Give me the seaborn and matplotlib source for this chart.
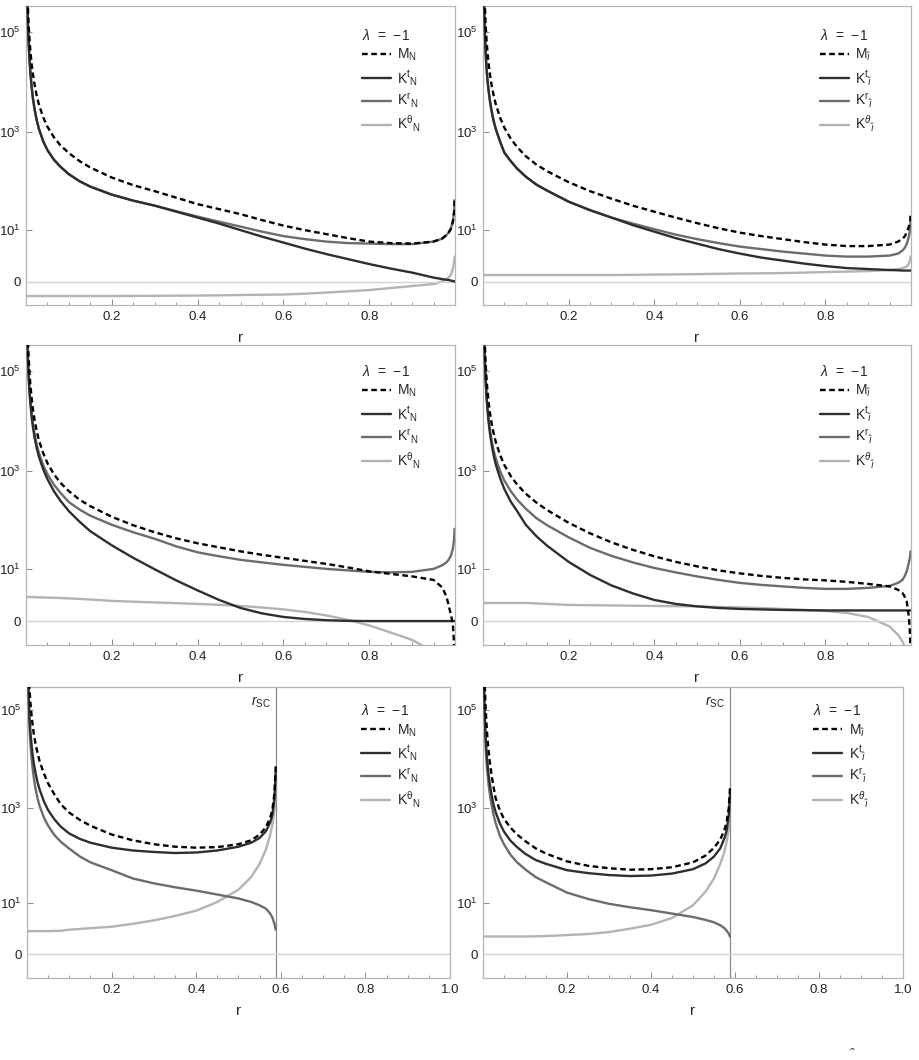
import matplotlib
matplotlib.use("Agg")
import matplotlib.pyplot as plt
import matplotlib.transforms as mtransforms
from matplotlib.ticker import FixedLocator, MultipleLocator, NullFormatter, FuncFormatter
import seaborn as sns
import numpy as np

# Data (values on a signed-log axis)
r_top = [0.002, 0.004, 0.006, 0.008, 0.01, 0.013, 0.016, 0.02, 0.025, 0.03, 0.04, 0.05,
         0.065, 0.08, 0.1, 0.125, 0.15, 0.2, 0.25, 0.3, 0.35, 0.4, 0.45, 0.5, 0.55, 0.6,
         0.65, 0.7, 0.75, 0.8, 0.85, 0.9, 0.95, 0.97, 0.98, 0.985, 0.99, 0.995, 0.998, 0.999]
r_bot = [0.002, 0.004, 0.006, 0.008, 0.01, 0.013, 0.016, 0.02, 0.025, 0.03, 0.04, 0.05,
         0.065, 0.08, 0.1, 0.125, 0.15, 0.2, 0.25, 0.3, 0.35, 0.4, 0.45, 0.5, 0.53, 0.55,
         0.565, 0.575, 0.58, 0.585, 0.588]
r_sc = 0.588

# top left
m_tl = [2.51e6, 3.98e5, 1.48e5, 7.59e4, 4.37e4, 2.34e4, 1.45e4, 8710, 5248, 3548, 1950, 1259,
        776, 537, 372, 257, 191, 120, 84.1, 63.6, 46.9, 34.5, 27.2, 21.4, 16.0, 12.2,
        9.7, 7.91, 6.41, 5.31, 4.89, 4.75, 5.31, 6.24, 7.51, 8.55, 10.2, 14.8, 24.1, 41.7]
kt_tl = [1.58e6, 2.0e5, 6.46e4, 2.95e4, 1.62e4, 8128, 4786, 2818, 1698, 1148, 646, 427,
         275, 199, 140, 101, 78.4, 54.0, 40.7, 32.1, 24.1, 18.1, 13.5, 9.72, 6.94, 5.03,
         3.57, 2.55, 1.82, 1.24, 0.82, 0.51, 0.2, 0.12, 0.084, 0.072, 0.047, 0.023, 0.009, 0.0]
kr_tl = [1.58e6, 2.0e5, 6.46e4, 2.95e4, 1.62e4, 8128, 4786, 2818, 1698, 1148, 646, 427,
         275, 199, 140, 101, 78.4, 54.0, 40.7, 32.1, 24.7, 19.0, 14.8, 11.6, 9.0, 7.13,
         6.08, 5.31, 4.89, 4.75, 4.62, 4.62, 5.31, 6.24, 7.51, 8.55, 10.2, 14.8, 24.1, 41.7]
kth_tl = [-0.95, -0.95, -0.95, -0.95, -0.95, -0.95, -0.95, -0.95, -0.95, -0.95, -0.95, -0.95,
          -0.95, -0.95, -0.95, -0.95, -0.95, -0.95, -0.94, -0.93, -0.92, -0.91, -0.89, -0.86,
          -0.84, -0.82, -0.75, -0.66, -0.57, -0.48, -0.35, -0.23, -0.12, 0.0, 0.12, 0.2,
          0.35, 0.78, 1.51, 2.16]

# top right
m_tr = [2.51e6, 3.98e5, 1.48e5, 7.59e4, 4.37e4, 2.34e4, 1.45e4, 8710, 5248, 3548, 1905, 1202,
        724, 489, 323, 218, 161, 96.7, 63.6, 44.7, 32.1, 24.1, 18.1, 13.8, 10.7, 8.55,
        7.13, 6.08, 5.17, 4.5, 4.13, 4.13, 4.5, 5.31, 6.24, 6.94, 8.55, 11.6, 15.6, 19.9]
kt_tr = [7.94e5, 1.12e5, 3.98e4, 2.0e4, 1.2e4, 6761, 4266, 2630, 1622, 1121, 630, 379,
         256, 181, 125, 86.1, 65.1, 38.8, 25.9, 18.1, 12.5, 9.0, 6.41, 4.75, 3.47, 2.63,
         2.02, 1.63, 1.29, 1.04, 0.86, 0.78, 0.7, 0.68, 0.66, 0.66, 0.66, 0.66, 0.66, 0.66]
kr_tr = [7.94e5, 1.12e5, 3.98e4, 2.0e4, 1.2e4, 6761, 4266, 2630, 1622, 1121, 630, 379,
         256, 181, 125, 86.1, 65.1, 38.8, 25.9, 18.1, 13.5, 10.2, 7.71, 6.08, 4.89, 4.01,
         3.47, 2.98, 2.63, 2.31, 2.16, 2.16, 2.31, 2.63, 3.17, 3.68, 4.62, 6.94, 10.2, 14.8]
kth_tr = [0.35, 0.35, 0.35, 0.35, 0.35, 0.35, 0.35, 0.35, 0.35, 0.35, 0.35, 0.35, 0.35,
          0.35, 0.35, 0.35, 0.35, 0.35, 0.35, 0.35, 0.36, 0.38, 0.39, 0.41, 0.43, 0.45,
          0.46, 0.48, 0.51, 0.55, 0.58, 0.62, 0.7, 0.78, 0.86, 0.92, 1.0, 1.29, 1.7, 2.16]

# middle left
m_ml = [3.16e6, 5.62e5, 2.0e5, 9.77e4, 5.62e4, 2.95e4, 1.78e4, 1.05e4, 6310, 4169, 2291,
        1445, 871, 589, 398, 268, 199, 122, 82.2, 59.3, 44.7, 35.3, 29.2, 24.1, 20.4, 17.6,
        15.2, 13.1, 11.0, 9.0, 7.91, 6.94, 5.76, 3.79, 2.16, 1.14, 0.41, -0.12, -2.16, -9.0]
kt_ml = [2.0e6, 2.14e5, 7.94e4, 3.98e4, 2.34e4, 1.26e4, 7762, 4677, 2884, 1950, 1096, 692,
         398, 257, 158, 96.7, 62.1, 32.1, 17.6, 10.0, 5.61, 3.17, 1.69, 0.86, 0.45, 0.23,
         0.12, 0.059, 0.028, 0.018, 0.018, 0.018, 0.018, 0.018, 0.018, 0.018, 0.018, 0.018,
         0.018, 0.018]
kr_ml = [2.0e6, 2.24e5, 8.51e4, 4.37e4, 2.63e4, 1.45e4, 8913, 5495, 3388, 2344, 1318, 871,
         537, 372, 240, 170, 128, 84.1, 59.3, 43.7, 30.6, 23.0, 19.0, 16.0, 14.1, 12.5,
         11.3, 10.2, 9.47, 8.77, 8.55, 8.77, 10.2, 12.2, 14.1, 16.0, 19.0, 27.2, 43.7, 69.8]
kth_ml = [2.09, 2.09, 2.08, 2.08, 2.07, 2.06, 2.06, 2.05, 2.04, 2.03, 2.01, 2.0, 1.97, 1.94,
          1.88, 1.82, 1.75, 1.57, 1.48, 1.4, 1.32, 1.24, 1.15, 1.04, 0.9, 0.74, 0.55, 0.32,
          0.08, -0.2, -0.66, -1.34, -2.98, -4.0, -5.0, -6.0, -8.0, -10.0, -12.0, -13.0]

# middle right
m_mr = [2.51e6, 3.98e5, 1.48e5, 7.59e4, 4.47e4, 2.45e4, 1.51e4, 9120, 5623, 3802, 2089,
        1318, 794, 537, 354, 234, 166, 92.3, 56.5, 37.0, 25.9, 19.0, 14.5, 11.6, 9.47, 8.12,
        7.13, 6.41, 5.92, 5.61, 5.17, 4.62, 4.01, 3.27, 2.72, 2.16, 1.51, 0.26, -1.0, -9.0]
kt_mr = [1.58e6, 1.91e5, 6.61e4, 3.24e4, 1.86e4, 9772, 5888, 3467, 2041, 1348, 723, 436,
         245, 157, 84.1, 49.1, 31.4, 14.5, 7.51, 4.25, 2.63, 1.69, 1.24, 1.0, 0.86, 0.78,
         0.74, 0.7, 0.68, 0.66, 0.66, 0.66, 0.66, 0.66, 0.66, 0.66, 0.66, 0.66, 0.66, 0.66]
kr_mr = [1.58e6, 2.0e5, 7.08e4, 3.55e4, 2.09e4, 1.12e4, 6918, 4169, 2570, 1778, 999, 645,
         397, 268, 177, 114, 82.2, 46.9, 28.5, 19.4, 14.1, 10.7, 8.55, 6.94, 5.76, 4.89,
         4.37, 4.01, 3.68, 3.47, 3.47, 3.68, 4.13, 4.89, 5.76, 6.94, 9.0, 13.8, 19.0, 24.1]
kth_mr = [1.34, 1.34, 1.34, 1.34, 1.34, 1.34, 1.34, 1.34, 1.34, 1.34, 1.34, 1.34, 1.34, 1.34,
          1.34, 1.29, 1.24, 1.14, 1.11, 1.09, 1.06, 1.04, 1.02, 1.0, 0.95, 0.91, 0.85, 0.78,
          0.7, 0.62, 0.48, 0.23, -0.26, -0.86, -1.51, -2.16, -3.47, -5.0, -7.0, -8.0]

# bottom left
m_bl = [3.16e6, 6.31e5, 2.63e5, 1.45e5, 9.12e4, 5.25e4, 3.31e4, 2.09e4, 1.32e4, 8913, 5012,
        3162, 1862, 1175, 794, 562, 427, 282, 214, 178, 158, 151, 155, 178, 214, 282, 398,
        631, 891, 1995, 7079]
kt_bl = [1.0e6, 1.78e5, 6.92e4, 3.72e4, 2.29e4, 1.29e4, 8318, 5248, 3311, 2344, 1349, 891,
         575, 407, 295, 229, 191, 151, 132, 123, 117, 120, 132, 158, 191, 240, 331, 501,
         708, 1585, 5623]
kr_bl = [7.94e5, 1.12e5, 4.17e4, 2.14e4, 1.26e4, 6761, 4169, 2512, 1549, 1071, 630, 426,
         274, 199, 144, 99, 74.9, 51.5, 34.5, 27.2, 22.4, 19.0, 15.6, 12.8, 10.7, 9.0, 7.51,
         5.76, 4.62, 3.17, 2.16]
kth_bl = [1.95, 1.95, 1.95, 1.95, 1.95, 1.95, 1.95, 1.95, 1.95, 1.95, 1.95, 1.95, 1.98, 2.0,
          2.16, 2.27, 2.39, 2.63, 3.17, 3.9, 5.03, 6.76, 10.7, 19.9, 37.0, 69.8, 140, 281,
          446, 890, 1478]

# bottom right
m_br = [2.82e6, 3.98e5, 1.26e5, 5.75e4, 3.16e4, 1.55e4, 8913, 5012, 2692, 1585, 891, 588,
        397, 287, 208, 147, 114, 78.4, 63.6, 56.5, 52.7, 54.0, 59.3, 74.9, 104, 150, 223,
        354, 500, 954, 2511]
kt_br = [5.01e5, 8.91e4, 3.16e4, 1.58e4, 9333, 5012, 3162, 1905, 1175, 813, 479, 323, 213,
         158, 114, 84.1, 69.8, 51.5, 44.7, 40.7, 38.8, 39.7, 43.7, 54.0, 71.4, 99, 147, 239,
         338, 675, 1861]
kr_br = [3.16e5, 5.62e4, 2.0e4, 1.0e4, 5888, 3161, 1994, 1201, 723, 489, 268, 177, 109,
         76.6, 54.0, 37.0, 28.5, 17.2, 12.5, 9.72, 8.12, 6.94, 5.76, 4.75, 4.01, 3.47, 2.89,
         2.39, 2.02, 1.63, 1.29]
kth_br = [1.29, 1.29, 1.29, 1.29, 1.29, 1.29, 1.29, 1.29, 1.29, 1.29, 1.29, 1.29, 1.29, 1.29,
          1.29, 1.31, 1.34, 1.45, 1.57, 1.82, 2.31, 2.98, 4.5, 9.0, 18.1, 34.5, 69.8, 125,
          199, 354, 561]

labels_n = [r"$\mathrm{M_{N}}$", r"$\mathrm{K^{t}{}_{N}}$",
            r"$\mathrm{K^{r}{}_{N}}$", r"$\mathrm{K^{\theta}{}_{N}}$"]
labels_i = [r"$\mathrm{M}_{\hat{\imath}}$", r"$\mathrm{K}^{\mathrm{t}}{}_{\hat{\imath}}$",
            r"$\mathrm{K}^{\mathrm{r}}{}_{\hat{\imath}}$", r"$\mathrm{K}^{\theta}{}_{\hat{\imath}}$"]

colors = ["black", "#2e2e2e", "#6c6c6c", "#b3b3b3"]
styles = [(0, (2.4, 1.5)), "-", "-", "-"]

sns.set_theme(style="white")
plt.rcParams["font.family"] = ["Liberation Sans", "DejaVu Sans"]
plt.rcParams["mathtext.fontset"] = "custom"
plt.rcParams["mathtext.rm"] = "Liberation Sans"
plt.rcParams["mathtext.it"] = "Liberation Sans:italic"
plt.rcParams["mathtext.bf"] = "Liberation Sans:bold"


def signed_log(y):
    y = np.asarray(y, dtype=float)
    return np.sign(y) * np.log10(1 + np.abs(y))


def signed_log_inv(z):
    z = np.asarray(z, dtype=float)
    return np.sign(z) * (10 ** np.abs(z) - 1)


W, H = 919, 1060
fig = plt.figure(figsize=(W / 100, H / 100), dpi=100)


def px_axes(x0, y0, x1, y1):
    return fig.add_axes([x0 / W, 1 - y1 / H, (x1 - x0) / W, (y1 - y0) / H])


def draw_panel(ax, r, series, labels, bottom_row, leg_xy):
    for i, (vals, lab, col, ls) in enumerate(zip(series, labels, colors, styles)):
        sns.lineplot(x=r, y=vals, ax=ax, color=col, linestyle=ls, lw=1.7,
                     label=lab, sort=False, estimator=None,
                     zorder=5 if i == 0 else 4 - i)
    handles, labs = ax.get_legend_handles_labels()

    ax.set_yscale("function", functions=(signed_log, signed_log_inv))
    ax.set_xlim(0, 1.0)
    if bottom_row:
        ax.set_ylim(-2.1, 3.0e5)
        ax.xaxis.set_major_locator(FixedLocator([0.2, 0.4, 0.6, 0.8, 1.0]))
        ax.axvline(r_sc, color="#8c8c8c", lw=0.9, zorder=1)
        trans = mtransforms.blended_transform_factory(ax.transData, ax.transAxes)
        ax.text(r_sc - 0.012, 0.975, r"$r_{\mathrm{SC}}$", transform=trans,
                ha="right", va="top", fontsize=10, color="#222222")
    else:
        ax.set_ylim(-1.95, 3.3e5)
        ax.xaxis.set_major_locator(FixedLocator([0.2, 0.4, 0.6, 0.8]))
    ax.xaxis.set_minor_locator(MultipleLocator(0.05))
    ax.xaxis.set_minor_formatter(NullFormatter())
    ax.xaxis.set_major_formatter(FuncFormatter(lambda v, p: f"{v:.1f}"))

    ax.yaxis.set_major_locator(FixedLocator([0, 10, 1e3, 1e5]))
    ax.yaxis.set_minor_locator(FixedLocator([]))
    ax.set_yticklabels(["0", r"$10^{1}$", r"$10^{3}$", r"$10^{5}$"])

    ax.axhline(0, color="#d4d4d4", lw=1.0, zorder=1)
    for s in ax.spines.values():
        s.set_color("#b5b5b5")
        s.set_linewidth(0.9)
    ax.tick_params(axis="both", which="major", direction="in", length=4, width=0.7,
                   color="#8a8a8a", labelsize=9.5, labelcolor="#222222", pad=4)
    ax.tick_params(axis="x", which="minor", direction="in", length=2.5, width=0.6,
                   color="#8a8a8a")
    ax.tick_params(left=True, bottom=True, which="both")
    ax.set_xlabel("r", fontsize=11, labelpad=6)
    ax.set_ylabel("")

    ax.legend(handles, labs, title=r"$\lambda$  =  $-$1", loc="upper left",
              bbox_to_anchor=leg_xy, frameon=False, fontsize=10, title_fontsize=10,
              handlelength=2.1, handletextpad=0.45, labelspacing=0.3,
              borderpad=0, borderaxespad=0, alignment="left")


ax_tl = px_axes(26, 6, 455, 305)
ax_tr = px_axes(483, 6, 911, 305)
ax_ml = px_axes(26, 345, 455, 645)
ax_mr = px_axes(483, 345, 911, 645)
ax_bl = px_axes(27, 687, 450, 978)
ax_br = px_axes(483, 687, 903, 978)

draw_panel(ax_tl, r_top, [m_tl, kt_tl, kr_tl, kth_tl], labels_n, False, (0.783, 0.927))
draw_panel(ax_tr, r_top, [m_tr, kt_tr, kr_tr, kth_tr], labels_i, False, (0.787, 0.927))
draw_panel(ax_ml, r_top, [m_ml, kt_ml, kr_ml, kth_ml], labels_n, False, (0.783, 0.937))
draw_panel(ax_mr, r_top, [m_mr, kt_mr, kr_mr, kth_mr], labels_i, False, (0.787, 0.937))
draw_panel(ax_bl, r_bot, [m_bl, kt_bl, kr_bl, kth_bl], labels_n, True, (0.790, 0.945))
draw_panel(ax_br, r_bot, [m_br, kt_br, kr_br, kth_br], labels_i, True, (0.786, 0.945))

# stray hat from the cropped caption below
fig.text(853 / W, 1 - 1062 / H, "\u02c6", ha="center", va="bottom", fontsize=11,
         color="#444444")

fig.savefig("out.png", dpi=100)
